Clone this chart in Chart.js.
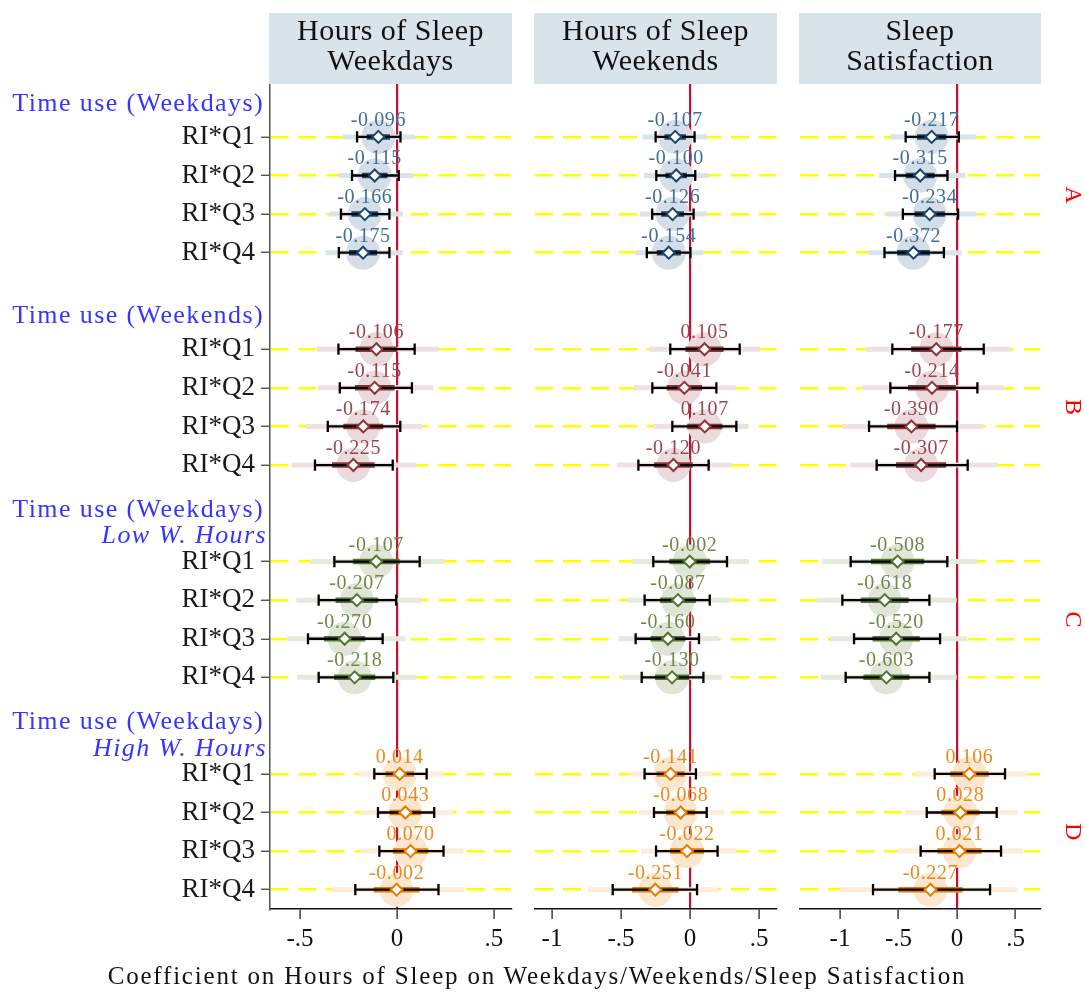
<!DOCTYPE html>
<html>
<head>
<meta charset="utf-8">
<script src="https://cdn.jsdelivr.net/npm/chart.js@4.4.1/dist/chart.umd.min.js"></script>
<style>
  html, body { margin: 0; padding: 0; background: #ffffff; }
  #wrap { position: relative; width: 1085px; height: 993px; overflow: hidden; }
  canvas { position: absolute; left: 0; top: 0; }
  #xtitle { position: absolute; left: 0; top: 962px; width: 1074px; text-align: center;
            font-family: "Liberation Serif", serif; font-size: 25px; letter-spacing: 1.8px; color: #111; }
</style>
</head>
<body>
<div id="wrap">
  <canvas id="c1" width="1085" height="993"></canvas>
  <canvas id="c2" width="1085" height="993"></canvas>
  <canvas id="c3" width="1085" height="993"></canvas>
  <div id="xtitle">Coefficient on Hours of Sleep on Weekdays/Weekends/Sleep Satisfaction</div>
</div>
<script>
// ---------------- DATA ----------------
const rowLabels = ['RI*Q1','RI*Q2','RI*Q3','RI*Q4','RI*Q1','RI*Q2','RI*Q3','RI*Q4',
                   'RI*Q1','RI*Q2','RI*Q3','RI*Q4','RI*Q1','RI*Q2','RI*Q3','RI*Q4'];
const rowPos = [0,1,2,3, 5.5,6.5,7.5,8.5, 11,12,13,14, 16.5,17.5,18.5,19.5];
const groupIds = ['A','B','C','D'];
const groupTitles = [['Time use (Weekdays)'], ['Time use (Weekends)'],
                     ['Time use (Weekdays)','Low W. Hours'], ['Time use (Weekdays)','High W. Hours']];
const groupTitlePos = [-1, 4.5, 10, 15.5];
const panelTitles = [['Hours of Sleep','Weekdays'], ['Hours of Sleep','Weekends'], ['Sleep','Satisfaction']];
const xTicks1 = [-0.5, 0, 0.5];
const xTicks2 = [-1, -0.5, 0, 0.5];
const xTicks3 = [-1, -0.5, 0, 0.5];

// Panel 1: Hours of Sleep Weekdays
const coef1  = [-0.096,-0.115,-0.166,-0.175, -0.106,-0.115,-0.174,-0.225, -0.107,-0.207,-0.270,-0.218, 0.014,0.043,0.070,-0.002];
const ciLo1  = [-0.206,-0.232,-0.289,-0.300, -0.302,-0.295,-0.357,-0.423, -0.323,-0.404,-0.459,-0.404, -0.117,-0.098,-0.091,-0.215];
const ciHi1  = [0.018,0.009,-0.039,-0.039, 0.091,0.077,0.017,-0.022, 0.117,-0.004,-0.074,-0.019, 0.153,0.192,0.240,0.214];
const outLo1 = [-0.280,-0.298,-0.351,-0.369, -0.414,-0.406,-0.469,-0.543, -0.447,-0.519,-0.567,-0.515, -0.201,-0.189,-0.189,-0.339];
const outHi1 = [0.093,0.084,0.030,0.030, 0.216,0.187,0.132,0.100, 0.245,0.129,0.043,0.098, 0.240,0.289,0.343,0.347];
const inLo1  = [-0.156,-0.181,-0.235,-0.247, -0.214,-0.217,-0.277,-0.335, -0.228,-0.317,-0.376,-0.324, -0.060,-0.037,-0.021,-0.120];
const inHi1  = [-0.036,-0.049,-0.097,-0.103, 0.002,-0.013,-0.071,-0.115, 0.014,-0.097,-0.164,-0.112, 0.088,0.123,0.161,0.116];

// Panel 2: Hours of Sleep Weekends
const coef2  = [-0.107,-0.100,-0.126,-0.154, 0.105,-0.041,0.107,-0.120, -0.002,-0.087,-0.160,-0.130, -0.141,-0.068,-0.022,-0.251];
const ciLo2  = [-0.249,-0.244,-0.274,-0.313, -0.143,-0.273,-0.128,-0.374, -0.266,-0.329,-0.394,-0.350, -0.329,-0.261,-0.246,-0.560];
const ciHi2  = [0.033,0.038,0.026,0.003, 0.360,0.191,0.336,0.135, 0.268,0.143,0.065,0.097, 0.043,0.121,0.200,0.051];
const outLo2 = [-0.344,-0.333,-0.364,-0.397, -0.295,-0.410,-0.266,-0.531, -0.423,-0.459,-0.519,-0.490, -0.435,-0.370,-0.355,-0.737];
const outHi2 = [0.123,0.136,0.123,0.097, 0.507,0.333,0.423,0.302, 0.423,0.297,0.210,0.229, 0.157,0.249,0.338,0.205];
const inLo2  = [-0.185,-0.178,-0.209,-0.241, -0.033,-0.169,-0.021,-0.260, -0.149,-0.217,-0.286,-0.253, -0.243,-0.173,-0.145,-0.419];
const inHi2  = [-0.029,-0.022,-0.043,-0.067, 0.243,0.087,0.235,0.020, 0.145,0.043,-0.034,-0.007, -0.039,0.037,0.101,-0.083];

// Panel 3: Sleep Satisfaction
const coef3  = [-0.217,-0.315,-0.234,-0.372, -0.177,-0.214,-0.390,-0.307, -0.508,-0.618,-0.520,-0.603, 0.106,0.028,0.021,-0.227];
const ciLo3  = [-0.439,-0.530,-0.463,-0.620, -0.553,-0.570,-0.752,-0.687, -0.909,-0.980,-0.880,-0.952, -0.191,-0.259,-0.311,-0.718];
const ciHi3  = [0.015,-0.082,0.009,-0.112, 0.228,0.174,0.000,0.091, -0.083,-0.236,-0.145,-0.236, 0.410,0.339,0.376,0.282];
const outLo3 = [-0.575,-0.666,-0.605,-0.756, -0.781,-0.809,-0.980,-0.909, -1.151,-1.199,-1.085,-1.165, -0.353,-0.447,-0.510,-1.000];
const outHi3 = [0.166,0.070,0.166,0.039, 0.459,0.402,0.225,0.345, 0.174,-0.003,0.088,-0.003, 0.601,0.521,0.567,0.516];
const inLo3  = [-0.342,-0.438,-0.364,-0.512, -0.392,-0.419,-0.597,-0.521, -0.735,-0.823,-0.722,-0.800, -0.059,-0.136,-0.168,-0.502];
const inHi3  = [-0.092,-0.192,-0.104,-0.232, 0.038,-0.009,-0.183,-0.093, -0.281,-0.413,-0.318,-0.406, 0.271,0.192,0.210,0.048];

// ---------------- STYLE / LAYOUT ----------------
const SERIF = '"Liberation Serif", "Times New Roman", serif';
const mainCol  = ['#1a476f', '#90353b', '#55752f', '#e37e00'];
const haloCol  = ['#d5dee6', '#ebdadc', '#dfe6d8', '#fbe6cf'];
const lightCol = ['#dbe3ea', '#eee1e2', '#e4eadd', '#fcecda'];
const labelCol = ['#3f6f9c', '#9a4650', '#6f8a48', '#ec8a20'];

const panels = [
  { canvas: 'c1', coef: coef1, ciLo: ciLo1, ciHi: ciHi1, outLo: outLo1, outHi: outHi1, inLo: inLo1, inHi: inHi1,
    ticks: xTicks1, min: -0.655, max: 0.588, padL: 0, yW: 270, padR: 574 },
  { canvas: 'c2', coef: coef2, ciLo: ciLo2, ciHi: ciHi2, outLo: outLo2, outHi: outHi2, inLo: inLo2, inHi: inHi2,
    ticks: xTicks2, min: -1.123, max: 0.623, padL: 535, yW: 0, padR: 309 },
  { canvas: 'c3', coef: coef3, ciLo: ciLo3, ciHi: ciHi3, outLo: outLo3, outHi: outHi3, inLo: inLo3, inHi: inHi3,
    ticks: xTicks3, min: -1.342, max: 0.709, padL: 800, yW: 0, padR: 45 }
];
const CAP = 0.145;       // half-height of CI caps (row units)
const GAP = {x: null, y: null};

function fmtTick(v) {
  if (v === 0) return '0';
  const s = Math.abs(v).toString().replace(/^0/, '');
  return (v < 0 ? '-' : '') + s;
}

function segs(lo, hi, idx) {
  const out = [];
  idx.forEach(i => { out.push({x: lo[i], y: rowPos[i]}, {x: hi[i], y: rowPos[i]}, GAP); });
  return out;
}
function ciSegs(lo, hi, idx) {
  const out = [];
  idx.forEach(i => {
    const r = rowPos[i];
    out.push({x: lo[i], y: r}, {x: hi[i], y: r}, GAP,
             {x: lo[i], y: r - CAP}, {x: lo[i], y: r + CAP}, GAP,
             {x: hi[i], y: r - CAP}, {x: hi[i], y: r + CAP}, GAP);
  });
  return out;
}

const deco = {
  id: 'deco',
  afterDatasetsDraw(chart, args, opts) {
    const P = panels[opts.p];
    const ctx = chart.ctx, xs = chart.scales.x, ys = chart.scales.y;
    ctx.save();
    ctx.font = '20px ' + SERIF;
    ctx.letterSpacing = '0.6px';
    ctx.textAlign = 'center';
    ctx.textBaseline = 'alphabetic';
    P.coef.forEach((v, i) => {
      ctx.fillStyle = labelCol[Math.floor(i / 4)];
      ctx.fillText(v.toFixed(3), xs.getPixelForValue(v), ys.getPixelForValue(rowPos[i]) - 11);
    });
    ctx.restore();
  },
  afterDraw(chart, args, opts) {
    const ctx = chart.ctx, ca = chart.chartArea, ys = chart.scales.y;
    // header strip
    ctx.save();
    ctx.fillStyle = '#d8e4ea';
    ctx.fillRect(ca.left - 1, 13, ca.right - ca.left + 2, ca.top - 13);
    ctx.fillStyle = '#111';
    ctx.font = '30px ' + SERIF;
    ctx.letterSpacing = '0.5px';
    ctx.textAlign = 'center';
    ctx.textBaseline = 'alphabetic';
    const t = panelTitles[opts.p];
    const cx = (ca.left + ca.right) / 2;
    ctx.fillText(t[0], cx, 40);
    ctx.fillText(t[1], cx, 70);
    ctx.restore();

    if (opts.p === 0) {
      ctx.save();
      ctx.fillStyle = '#3535ff';
      ctx.textAlign = 'right';
      ctx.textBaseline = 'alphabetic';
      ctx.letterSpacing = '1.4px';
      groupTitles.forEach((lines, g) => {
        const yp = ys.getPixelForValue(groupTitlePos[g]);
        if (lines.length === 1) {
          ctx.font = '26px ' + SERIF;
          ctx.fillText(lines[0], 264, yp + 12.5);
        } else {
          ctx.font = '26px ' + SERIF;
          ctx.fillText(lines[0], 264, yp - 6);
          ctx.font = 'italic 26px ' + SERIF;
          ctx.fillText(lines[1], 267, yp + 20.5);
        }
      });
      ctx.restore();
    }
    if (opts.p === 2) {
      ctx.save();
      ctx.fillStyle = '#ff0000';
      ctx.font = '24px ' + SERIF;
      ctx.textAlign = 'center';
      ctx.textBaseline = 'middle';
      groupIds.forEach((id, g) => {
        const yp = (ys.getPixelForValue(rowPos[g * 4]) + ys.getPixelForValue(rowPos[g * 4 + 3])) / 2;
        ctx.save();
        ctx.translate(1072, yp);
        ctx.rotate(Math.PI / 2);
        ctx.fillText(id, 0, 0);
        ctx.restore();
      });
      ctx.restore();
    }
  }
};

panels.forEach((P, p) => {
  const datasets = [];
  for (let g = 0; g < 4; g++) {
    const idx = [g * 4, g * 4 + 1, g * 4 + 2, g * 4 + 3];
    datasets.push({
      label: 'coef' + g, order: 1,
      data: idx.map(i => ({x: P.coef[i], y: rowPos[i]})),
      pointStyle: 'rectRot', pointRadius: 6, backgroundColor: '#ffffff',
      borderColor: mainCol[g], borderWidth: 2
    });
    datasets.push({
      label: 'ci' + g, order: 2, showLine: true, spanGaps: false,
      data: ciSegs(P.ciLo, P.ciHi, idx),
      pointRadius: 0, borderColor: '#000000', borderWidth: 2.3
    });
    datasets.push({
      label: 'inner' + g, order: 3, showLine: true, spanGaps: false,
      data: segs(P.inLo, P.inHi, idx),
      pointRadius: 0, borderColor: mainCol[g], borderWidth: 5.5
    });
    datasets.push({
      label: 'halo' + g, order: 4,
      data: idx.map(i => ({x: P.coef[i], y: rowPos[i]})),
      pointStyle: 'circle', pointRadius: 17, backgroundColor: haloCol[g], borderWidth: 0
    });
    datasets.push({
      label: 'outer' + g, order: 5, showLine: true, spanGaps: false,
      data: segs(P.outLo, P.outHi, idx),
      pointRadius: 0, borderColor: lightCol[g], borderWidth: 5
    });
  }

  new Chart(document.getElementById(P.canvas), {
    type: 'scatter',
    data: { datasets },
    options: {
      responsive: false, animation: false, events: [],
      layout: { padding: { left: P.padL, right: P.padR, top: 84, bottom: 0 } },
      plugins: { legend: { display: false }, tooltip: { enabled: false }, deco: { p } },
      scales: {
        x: {
          type: 'linear', min: P.min, max: P.max,
          afterBuildTicks: s => { s.ticks = P.ticks.map(v => ({ value: v })); },
          afterFit: s => { s.height = 84; },
          ticks: { callback: v => fmtTick(v), font: { family: SERIF, size: 25 }, color: '#111',
                   padding: 5, maxRotation: 0, autoSkip: false },
          grid: {
            z: -0.5, drawOnChartArea: true, drawTicks: true, tickLength: 10, tickWidth: 1.3, tickColor: '#222',
            lineWidth: 2.2,
            color: c => (c.tick && c.tick.value === 0) ? '#c8102e' : 'rgba(0,0,0,0)'
          },
          border: { display: true, color: '#111', width: 1.5 }
        },
        y: {
          type: 'linear', reverse: true, min: -1.37, max: 20.0,
          afterBuildTicks: s => { s.ticks = rowPos.map(v => ({ value: v })); },
          afterFit: s => { s.width = P.yW; },
          ticks: { display: p === 0, autoSkip: false, padding: 6,
                   callback: (v, i) => rowLabels[i], font: { family: SERIF, size: 27 }, color: '#1a1a1a' },
          grid: { display: true, drawOnChartArea: true, drawTicks: p === 0, tickLength: 9, tickWidth: 1.3,
                  tickColor: '#444', tickBorderDash: [], color: '#ffff00', lineWidth: 2.5 },
          border: { display: p === 0, color: '#555', width: 1.5, dash: [18, 10] }
        }
      }
    },
    plugins: [deco]
  });
});
</script>
</body>
</html>
